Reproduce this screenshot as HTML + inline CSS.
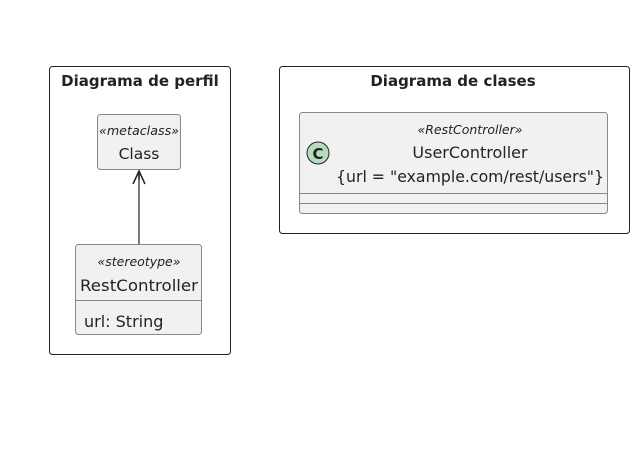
<!DOCTYPE html>
<html><head><meta charset="utf-8"><style>body{margin:0;background:#fff}</style></head><body>
<svg width="638" height="467" xmlns="http://www.w3.org/2000/svg" font-family="'DejaVu Sans','Liberation Sans',sans-serif">
<rect x="49.5" y="66.5" width="181" height="288" rx="3" fill="none" stroke="#222" stroke-width="1"/>
<text x="140" y="86" font-size="15" font-weight="bold" text-anchor="middle" fill="#222">Diagrama de perfil</text>
<rect x="97.5" y="114.5" width="83" height="55" rx="3" fill="#f1f1f1" stroke="#888"/>
<text x="139" y="135" font-size="12" font-style="italic" text-anchor="middle" fill="#222" textLength="80" lengthAdjust="spacingAndGlyphs">«metaclass»</text>
<text x="139" y="159" font-size="15.5" text-anchor="middle" fill="#222">Class</text>
<line x1="139" y1="244" x2="139" y2="171" stroke="#222" stroke-width="1.2"/>
<path d="M133,184 L139,171 L145,184 M139,171 L139,180" fill="none" stroke="#222" stroke-width="1.5"/>
<rect x="75.5" y="244.5" width="126" height="90" rx="3" fill="#f1f1f1" stroke="#888"/>
<text x="139" y="266" font-size="12.5" font-style="italic" text-anchor="middle" fill="#222">«stereotype»</text>
<text x="139" y="291" font-size="16" text-anchor="middle" fill="#222" textLength="118" lengthAdjust="spacingAndGlyphs">RestController</text>
<line x1="75.5" y1="300.5" x2="201.5" y2="300.5" stroke="#888"/>
<text x="84" y="327" font-size="16" fill="#222">url: String</text>
<rect x="279.5" y="66.5" width="350" height="167" rx="3" fill="none" stroke="#222"/>
<text x="453" y="86" font-size="15" font-weight="bold" text-anchor="middle" fill="#222">Diagrama de clases</text>
<rect x="299.5" y="112.5" width="308" height="101" rx="3" fill="#f1f1f1" stroke="#888"/>
<circle cx="318" cy="153" r="11" fill="#b7dcbd" stroke="#222"/>
<text x="318" y="159" font-size="15" font-weight="bold" text-anchor="middle" fill="#222">C</text>
<text x="470" y="134" font-size="12.5" font-style="italic" text-anchor="middle" fill="#222">«RestController»</text>
<text x="470" y="158" font-size="16" text-anchor="middle" fill="#222">UserController</text>
<text x="470" y="182" font-size="16" text-anchor="middle" fill="#222" textLength="268" lengthAdjust="spacingAndGlyphs">{url = "example.com/rest/users"}</text>
<line x1="299.5" y1="193.5" x2="607.5" y2="193.5" stroke="#888"/>
<line x1="299.5" y1="203.5" x2="607.5" y2="203.5" stroke="#888"/>
</svg>
</body></html>
